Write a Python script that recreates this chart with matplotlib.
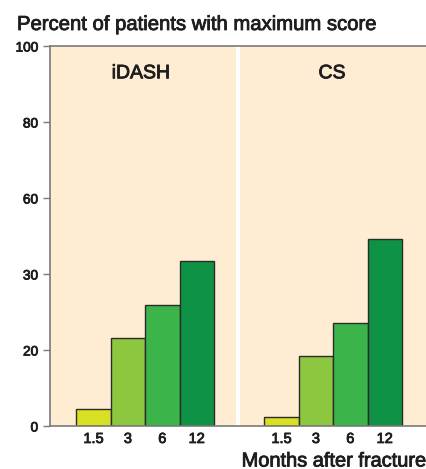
import matplotlib
matplotlib.use('Agg')
import matplotlib.pyplot as plt
import matplotlib.patheffects as pe

plt.rcParams['font.family'] = ['Liberation Sans', 'DejaVu Sans']

# data
months = ['1.5', '3', '6', '12']
idash = [4.5, 23.1, 31.8, 43.4]
cs = [2.4, 18.4, 27.1, 49.2]
groups = ['iDASH', 'CS']
y_ticks = [0, 20, 40, 60, 80, 100]
y_labels = ['0', '20', '30', '60', '80', '100']

colors = ['#d7e022', '#8dc63f', '#3bb44a', '#0e9346']
bg = '#feedd3'
grey = '#7a7a7a'
txt = '#1e1e1e'

# slightly heavier than regular, like the medium weight in the reference
medium = [pe.withStroke(linewidth=0.6, foreground=txt)]

fig = plt.figure(figsize=(4.26, 4.69), dpi=100)
ax = fig.add_axes([50 / 426, 43 / 469, 376 / 426, 380 / 469])

# x positions in bar-width units
w = 34.4
panel_end = (236 - 50) / w
panel2_start = (240 - 50) / w
x_end = 376 / w
idash_x = [(76.3 - 50) / w + 0.5 + i for i in range(4)]
cs_x = [(264.3 - 50) / w + 0.5 + i for i in range(4)]

ax.axvspan(0, panel_end, color=bg, lw=0, zorder=0)
ax.axvspan(panel2_start, x_end, color=bg, lw=0, zorder=0)

ax.bar(idash_x, idash, width=1.0, color=colors, edgecolor='#2b2b2b', linewidth=1.0, zorder=2)
ax.bar(cs_x, cs, width=1.0, color=colors, edgecolor='#2b2b2b', linewidth=1.0, zorder=2)

ax.text((141 - 50) / w, 91.5, groups[0], ha='center', va='baseline',
        fontsize=14, color=txt, path_effects=medium)
ax.text((332 - 50) / w, 91.5, groups[1], ha='center', va='baseline',
        fontsize=14, color=txt, path_effects=medium)

ax.set_xlim(0, x_end)
ax.set_ylim(0, 100)
ax.set_yticks(y_ticks)
ax.set_yticklabels(y_labels, fontsize=9.8, color=txt)
ax.set_xticks(idash_x + cs_x)
ax.set_xticklabels(months + months, fontsize=10.5, color=txt)
for lab in ax.get_xticklabels() + ax.get_yticklabels():
    lab.set_path_effects(medium)
ax.tick_params(axis='x', length=0, pad=4.3)
ax.tick_params(axis='y', length=5, color=grey, width=1, pad=3.6)

ax.spines['right'].set_visible(False)
for s in ['left', 'top', 'bottom']:
    ax.spines[s].set_color(grey)
    ax.spines[s].set_linewidth(1.2)
ax.set_facecolor('white')

fig.text(17 / 426, 1 - 30 / 469, 'Percent of patients with maximum score',
         ha='left', va='baseline', fontsize=14.6, color=txt, path_effects=medium)
fig.text(426 / 426, 1 - 466.5 / 469, 'Months after fracture',
         ha='right', va='baseline', fontsize=14.4, color=txt, path_effects=medium)

fig.savefig('out.png', dpi=100)
